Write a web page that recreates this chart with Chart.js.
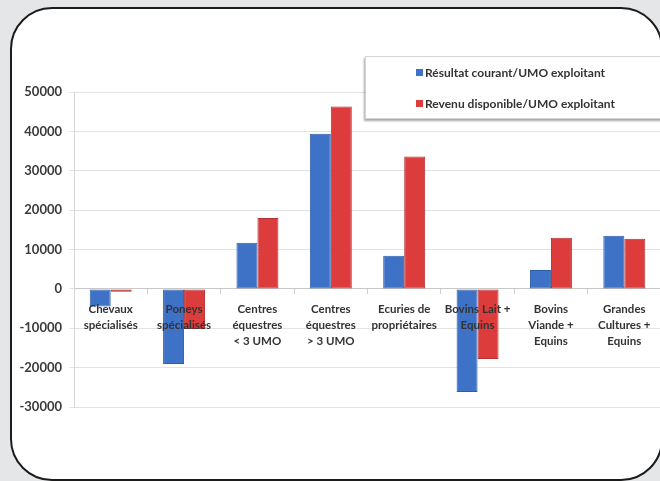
<!DOCTYPE html>
<html>
<head>
<meta charset="utf-8">
<script src="https://cdn.jsdelivr.net/npm/chart.js@4.4.1/dist/chart.umd.min.js"></script>
<style>
  html, body { margin: 0; padding: 0; }
  body { width: 660px; height: 481px; overflow: hidden; background: #e5e6e7; position: relative; font-family: Lato, sans-serif; }
  #frame { position: absolute; left: 10px; top: 7px; width: 653px; height: 474px; box-sizing: border-box;
           border: 2.5px solid #1c1c1c; border-radius: 42px; background: #fff; }
  #wrap { position: absolute; left: 0; top: 0; width: 661px; height: 481px; }
  #legend { position: absolute; left: 365px; top: 56px; width: 310px; height: 63px; box-sizing: border-box;
            background: #fff; border: 1px solid #d4d4d4; box-shadow: -1px 2px 2px rgba(0,0,0,0.35); }
  .item { position: absolute; left: 50px; font: bold 12px Lato, sans-serif; color: #333; white-space: nowrap; }
  .item span { display: inline-block; width: 7px; height: 7px; margin-right: 2px; vertical-align: 1px; }
</style>
</head>
<body>
<div id="frame"></div>
<div id="wrap"><canvas id="chart" width="661" height="481"></canvas></div>
<div id="legend"></div>
<script>
// categories (x axis labels, one line per entry)
const categories = [
    ['Chevaux', 'spécialisés'],
    ['Poneys', 'spécialisés'],
    ['Centres', 'équestres', '< 3 UMO'],
    ['Centres', 'équestres', '> 3 UMO'],
    ['Ecuries de', 'propriétaires'],
    ['Bovins Lait +', 'Equins'],
    ['Bovins', 'Viande +', 'Equins'],
    ['Grandes', 'Cultures +', 'Equins']
];

// series values
const resultatCourant = [-4500, -19100, 11700, 39400, 8400, -26200, 4800, 13500];
const revenuDisponible = [-700, -10200, 18000, 46300, 33600, -17800, 13000, 12700];

const seriesNames = ['Résultat courant/UMO exploitant', 'Revenu disponible/UMO exploitant'];

// y axis ticks
const yMin = -30000;
const yMax = 50000;
const yStep = 10000;

const ctx = document.getElementById('chart').getContext('2d');
const chart = new Chart(ctx, {
    type: 'bar',
    data: {
        labels: categories,
        datasets: [
            {
                label: seriesNames[0],
                data: resultatCourant,
                backgroundColor: '#3d72c6',
                borderColor: '#2f5ea8',
                borderWidth: 1,
                borderSkipped: false
            },
            {
                label: seriesNames[1],
                data: revenuDisponible,
                backgroundColor: '#dc3c3c',
                borderColor: '#b53131',
                borderWidth: 1,
                borderSkipped: false
            }
        ]
    },
    options: {
        responsive: false,
        animation: false,
        layout: { padding: { left: 0, top: 92, right: 0, bottom: 74 } },
        datasets: { bar: { categoryPercentage: 0.572, barPercentage: 1 } },
        plugins: { legend: { display: false }, tooltip: { enabled: false } },
        scales: {
            x: {
                position: { y: 0 },
                grid: { offset: true, drawOnChartArea: false, tickLength: 5, color: '#cfcfcf' },
                border: { color: '#c8c8c8' },
                ticks: {
                    z: 1, // labels over the bars, like the original
                    autoSkip: false, maxRotation: 0, padding: 7,
                    color: '#333',
                    font: { family: 'Lato', weight: 'bold', size: 11.5, lineHeight: 1.4 }
                }
            },
            y: {
                min: yMin,
                max: yMax,
                afterFit: function (scale) { scale.width = 74; },
                grid: { color: '#e2e2e2', tickLength: 5 },
                border: { color: '#d6d6d6' },
                ticks: {
                    stepSize: yStep, padding: 7,
                    color: '#3a3a3a',
                    font: { family: 'Lato', weight: 'bold', size: 13 },
                    callback: function (value) { return String(value); }
                }
            }
        }
    }
});

// Legend built from the datasets
const legend = document.getElementById('legend');
const rowTops = [8, 39];
chart.data.datasets.forEach((ds, i) => {
    const row = document.createElement('div');
    row.className = 'item';
    row.style.top = rowTops[i] + 'px';
    row.innerHTML = '<span style="background:' + ds.backgroundColor + '"></span>' + ds.label;
    legend.appendChild(row);
});
</script>
</body>
</html>
